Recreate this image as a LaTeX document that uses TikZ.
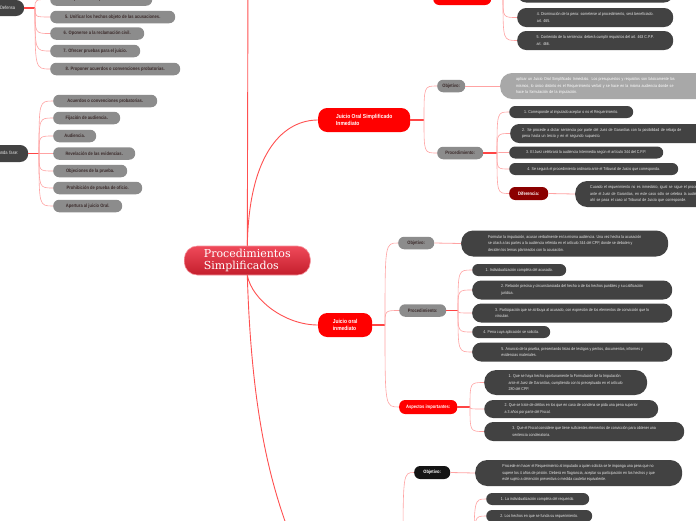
\documentclass[tikz,border=0pt]{standalone}
\usepackage{fontspec}
\newfontfamily\nar[FakeStretch=0.85]{Liberation Sans}
\newfontfamily\slab{DejaVu Serif}
\definecolor{cgr}{HTML}{8C8C8C}
\definecolor{ctx}{HTML}{3B2B2B}
\definecolor{cdk}{HTML}{424242}
\definecolor{ctw}{HTML}{E6E6E6}
\definecolor{clt}{HTML}{A8A8A8}
\definecolor{cred}{HTML}{FF0000}
\definecolor{cdr}{HTML}{8B0000}
\definecolor{cpk}{HTML}{FFA3A3}
\definecolor{ctr}{HTML}{FF4545}
\definecolor{crl}{HTML}{FF5050}
\definecolor{rtop}{HTML}{EF4A5A}
\definecolor{rbot}{HTML}{C41E2C}
\tikzset{
 base/.style={anchor=west, align=left, inner ysep=0pt},
 gr/.style={base, fill=cgr, text=ctx, rounded corners=6pt, minimum height=12.5pt, inner xsep=6pt, font=\nar\bfseries\fontsize{4.8}{6}\selectfont},
 dk/.style={base, fill=cdk, text=ctw, rounded corners=6pt, minimum height=12pt, inner xsep=6pt, font=\nar\fontsize{4.2}{6.5}\selectfont},
 dkt/.style={dk, rounded corners=9pt, minimum height=19pt},
 dkh/.style={dk, rounded corners=12pt, minimum height=26pt},
 rd/.style={base, fill=cred, text=white, rounded corners=7pt, inner xsep=6pt, font=\nar\bfseries\fontsize{5.8}{7.5}\selectfont},
 rds/.style={rd, rounded corners=6pt, font=\nar\bfseries\fontsize{4.8}{6}\selectfont},
 br/.style={draw=cpk, line width=0.6pt},
 tr/.style={draw=ctr, line width=1.3pt},
 rl/.style={draw=crl, line width=0.9pt},
}
\begin{document}
\begin{tikzpicture}[x=1pt,y=-1pt]
\clip (0,0) rectangle (696,520);
\fill[white] (0,0) rectangle (696,520);

% ---------- left groups ----------
\node[dk, minimum width=64pt, minimum height=16pt, rounded corners=8pt, text width=46pt, align=right, font=\nar\fontsize{4.8}{6}\selectfont] (def) at (-40,8) {Defensa};
\node[gr, minimum width=102pt] (n4) at (50,-0.5) {4. Proponer una reparación concertada.};
\node[gr, minimum width=125pt] (n5) at (50,17) {5. Unificar los hechos objeto de las acusaciones.};
\node[gr, minimum width=94pt] (n6) at (50,33.5) {6. Oponerse a la reclamación civil.};
\node[gr, minimum width=90pt] (n7) at (50,51) {7. Ofrecer pruebas para el juicio.};
\node[gr, minimum width=130pt] (n8) at (50,69) {8. Proponer acuerdos o convenciones probatorias.};

\node[dk, minimum width=68pt, minimum height=17pt, rounded corners=8pt, text width=48pt, align=right, font=\nar\fontsize{4.8}{6}\selectfont] (fase) at (-40,153.5) {Segunda fase:};
\node[gr, minimum width=104pt] (g1) at (53,101) {Acuerdos o convenciones probatorias.};
\node[gr, minimum width=67pt] (g2) at (53,118) {Fijación de audiencia.};
\node[gr, minimum width=43pt] (g3) at (53,136) {Audiencia.};
\node[gr, minimum width=82pt] (g4) at (53,153.5) {Revelación de las evidencias.};
\node[gr, minimum width=74pt] (g5) at (53,171) {Objeciones de la prueba.};
\node[gr, minimum width=89pt] (g6) at (53,188) {Prohibición de prueba de oficio.};
\node[gr, minimum width=69pt] (g7) at (53,206) {Apertura al juicio Oral.};

% ---------- root ----------
\node[base, minimum width=126pt, minimum height=29pt, rounded corners=13pt, top color=rtop, bottom color=rbot, draw=rtop!60!white, line width=0.6pt, text=white, font=\slab\fontsize{11}{12.5}\selectfont] (root) at (184,260.5) {Procedimientos\\Simplificados};

% ---------- top branch ----------
\node[rds, minimum width=58pt, minimum height=15pt] (asp) at (433,-2.5) {Aspectos importantes:};
\node[dkt, minimum width=156pt] (t3) at (517,-7) {3. Audiencia: el Juez de Garantías dictará sentencia.\\art. 464.};
\node[dkt, minimum width=156pt] (t4) at (517,17.5) {4. Disminución de la pena: someterse al procedimiento, será beneficiado.\\art. 465.};
\node[dkt, minimum width=156pt] (t5) at (517,40.5) {5. Contenido de la sentencia: deberá cumplir requisitos del art. 463 C.P.P.\\art. 466.};

% ---------- Juicio Oral Simplificado Inmediato ----------
\node[rd, minimum width=92pt, minimum height=24pt, rounded corners=9pt] (josi) at (318,120) {Juicio Oral Simplificado\\Inmediato};
\node[gr, minimum width=28pt, inner xsep=4pt] (obj1) at (437,86) {Objetivo:};
\node[dkh, fill=clt, text=white, inner xsep=16pt, text width=215pt] (objt1) at (500,86) {aplicar un Juicio Oral Simplificado Inmediato. Los presupuestos y requisitos son básicamente los\\mismos, lo único distinto es el Requerimiento verbal y se hace en la misma audiencia donde se\\hace la formulación de la imputación.};
\node[gr, minimum width=46pt, inner xsep=4pt] (proc1) at (437,153) {Procedimiento:};
\node[dk, minimum width=124pt] (p1) at (509,112) {1. Corresponde al imputado aceptar o no el Requerimiento.};
\node[dkt, inner xsep=12pt, text width=215pt] (p2) at (510,133.5) {2. Se procede a dictar sentencia por parte del Juez de Garantías con la posibilidad de rebaja de\\pena hasta un tercio y en el segundo supuesto.};
\node[dk, minimum width=154pt] (p3) at (509,152.5) {3. El Juez celebrará la audiencia Intermedia según el artículo 344 del C.P.P.};
\node[dk, minimum width=169pt] (p4) at (509,169) {4. Se seguirá el procedimiento ordinario ante el Tribunal de Juicio que corresponda.};
\node[gr, fill=cdr, text=white, minimum width=39pt, minimum height=13pt, inner xsep=4pt] (dif) at (509,193.5) {Diferencia:};
\node[dkh, inner xsep=15pt, text width=270pt] (dift) at (575,194) {Cuando el requerimiento no es inmediato, igual se sigue el procedimiento\\ante el Juez de Garantías, en este caso sólo se celebra la audiencia intermedia y\\ahí se pasa el caso al Tribunal de Juicio que corresponde.};

% ---------- Juicio oral inmediato ----------
\node[rd, minimum width=54pt, minimum height=24pt, rounded corners=9pt] (joi) at (318,325) {Juicio oral\\inmediato};
\node[gr, minimum width=36pt, inner xsep=4pt] (obj2) at (398,243) {Objetivo:};
\node[dkh, minimum width=207pt] (objt2) at (461,243.5) {Formular la imputación, acusar verbalmente en la misma audiencia. Una vez hecha la acusación\\se citará a las partes a la audiencia referida en el artículo 344 del CPP, donde se debaten y\\deciden los temas planteados con la acusación.};
\node[gr, minimum width=47pt, inner xsep=4pt] (proc2) at (399,310.5) {Procedimiento:};
\node[dk, minimum width=94pt] (q1) at (472,270) {1. Individualización completa del acusado.};
\node[dkt, minimum width=200pt] (q2) at (472,290) {2. Relación precisa y circunstanciada del hecho o de los hechos punibles y su calificación\\jurídica.};
\node[dkt, minimum width=200pt] (q3) at (472,313) {3. Participación que se atribuya al acusado, con expresión de los elementos de convicción que lo\\vinculan.};
\node[dk, minimum width=78pt] (q4) at (472,332) {4. Pena cuya aplicación se solicita.};
\node[dkt, minimum width=200pt] (q5) at (472,352) {5. Anuncio de la prueba, presentando listas de testigos y peritos, documentos, informes y\\evidencias materiales.};
\node[rds, minimum width=58pt, minimum height=14pt] (aspb) at (399,407) {Aspectos importantes:};
\node[dkh, minimum width=163pt, minimum height=25pt] (a1) at (484,382.5) {1. Que se haya hecho oportunamente la Formulación de la Imputación\\ante el Juez de Garantías, cumpliendo con lo preceptuado en el artículo\\280 del CPP.};
\node[dkt, minimum width=174pt, minimum height=18pt] (a2) at (484,409) {2. Que se trate de delitos en los que en caso de condena se pida una pena superior\\a 3 años por parte del Fiscal.};
\node[dkt, minimum width=200pt] (a3) at (484,431.5) {3. Que el Fiscal considere que tiene suficientes elementos de convicción para obtener una\\sentencia condenatoria.};

% ---------- bottom branch ----------
\node[gr, fill=black!92, text=white, minimum width=36pt, minimum height=13pt, inner xsep=4pt] (obj3) at (414,472.5) {Objetivo:};
\node[dkh, minimum width=207pt] (objt3) at (475,473) {Procede en hacer el Requerimiento al imputado a quien solicita se le imponga una pena que no\\supere los 4 años de prisión. Deberá en flagrancia, aceptar su participación en los hechos y que\\esté sujeto a detención preventiva o medida cautelar equivalente.};
\node[dk, minimum width=103pt] (b1) at (486,499) {1. La individualización completa del requerido.};
\node[dk, minimum width=106pt] (b2) at (486,516) {2. Los hechos en que se funda su requerimiento.};

% ---------- coordinates ----------
\coordinate (k1) at (35,8);
\coordinate (k2) at (39,153.5);
\coordinate (k3) at (503,-2.5);
\coordinate (k4) at (424,120);
\coordinate (k5) at (497,153);
\coordinate (k6) at (385,325);
\coordinate (k7) at (458,310.5);
\coordinate (k8) at (470,407);
\coordinate (k9) at (403,560);
\coordinate (k10) at (474,560);
\coordinate (upc) at (248,-25);
\coordinate (dnc) at (300,560);

% ---------- connectors ----------
\draw[rl] (root.north) -- (upc);
\draw[rl] (upc) .. controls (250,-45) and (360,-6) .. (asp.west);
\draw[rl] (root.north) .. controls (249,150) and (285,120) .. (josi.west);
\draw[rl] (root.south) .. controls (252,300) and (285,325) .. (joi.west);
\draw[rl] (root.south) .. controls (252,430) and (275,500) .. (dnc);

\draw[tr] (def.east) -- (k1);
\draw[tr] (fase.east) -- (k2);
\draw[tr] (asp.east) -- (k3);
\draw[tr] (josi.east) -- (k4);
\draw[tr] (proc1.east) -- (k5);
\draw[tr] (joi.east) -- (k6);
\draw[tr] (proc2.east) -- (k7);
\draw[tr] (aspb.east) -- (k8);

\foreach \c in {n4,n5,n6,n7,n8} \draw[br] (k1) .. controls (k1 |- \c.west) .. (\c.west);
\foreach \c in {g1,g2,g3,g4,g5,g6,g7} \draw[br] (k2) .. controls (k2 |- \c.west) .. (\c.west);
\foreach \c in {t3,t4,t5} \draw[br] (k3) .. controls (k3 |- \c.west) .. (\c.west);
\foreach \c in {obj1,proc1} \draw[br] (k4) .. controls (k4 |- \c.west) .. (\c.west);
\foreach \c in {p1,p2,p3,p4,dif} \draw[br] (k5) .. controls (k5 |- \c.west) .. (\c.west);
\foreach \c in {obj2,proc2,aspb} \draw[br] (k6) .. controls (k6 |- \c.west) .. (\c.west);
\foreach \c in {q1,q2,q3,q4,q5} \draw[br] (k7) .. controls (k7 |- \c.west) .. (\c.west);
\foreach \c in {a1,a2,a3} \draw[br] (k8) .. controls (k8 |- \c.west) .. (\c.west);
\draw[br] (k9) .. controls (k9 |- obj3.west) .. (obj3.west);
\foreach \c in {b1,b2} \draw[br] (k10) .. controls (k10 |- \c.west) .. (\c.west);

\draw[br, line width=0.8pt] (obj1.east) -- (objt1.west);
\draw[br, line width=0.8pt] (dif.east) -- (dift.west);
\draw[br, line width=0.8pt] (obj2.east) -- (objt2.west);
\draw[br, line width=0.8pt] (obj3.east) -- (objt3.west);
\end{tikzpicture}
\end{document}
